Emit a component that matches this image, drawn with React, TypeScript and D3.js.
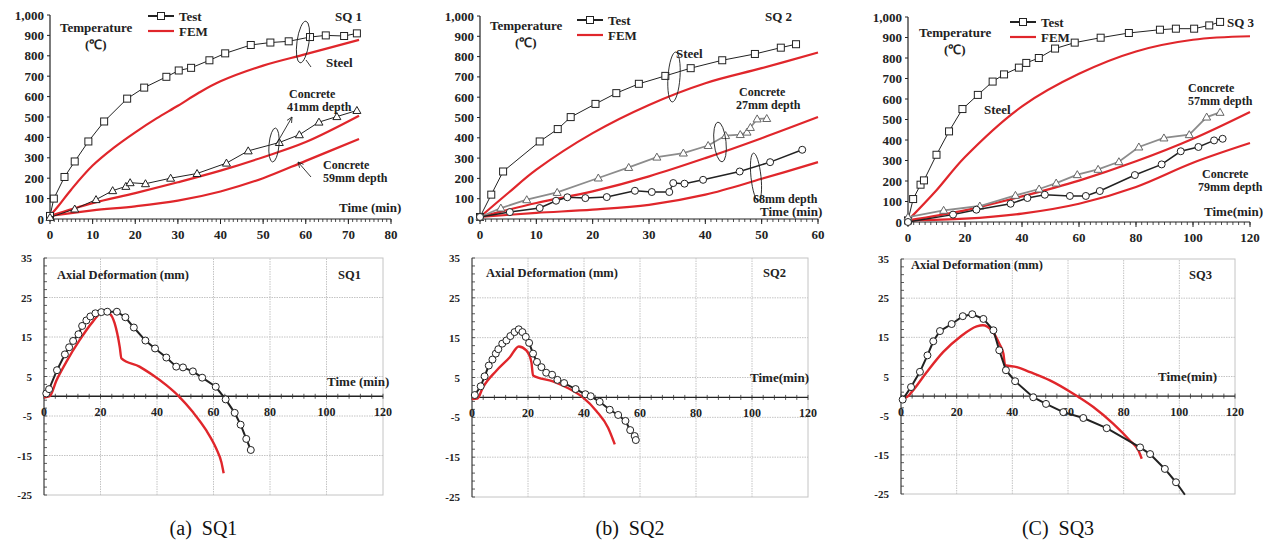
import * as d3 from "d3";
import React from "react";

// ---- temperature data (time min, temp C) ----
const sq1SteelTest = [[0, 15], [0.9, 100], [3.4, 206], [5.8, 282], [9, 380], [12.7, 478], [18.1, 590], [22.1, 644], [27.3, 697], [30.2, 728], [33.1, 741], [37.4, 778], [41.1, 812], [47.1, 853], [51.7, 865], [56, 871], [61, 892], [64.7, 900], [69, 897], [72, 910]];
const sq1ConcTest = [[0, 8], [5.8, 49], [10.8, 95], [14.7, 139], [17.8, 160], [18.8, 178], [22.4, 173], [28.3, 200], [34.5, 223], [41.4, 274], [46.5, 334], [53.8, 375], [58.5, 413], [63.1, 475], [67.3, 502], [72, 532]];
const sq1SteelFem = [[0, 15], [2, 65], [5, 145], [10, 262], [15, 350], [20, 425], [25, 493], [30, 555], [35, 620], [40, 675], [50, 752], [60, 808], [72.5, 878]];
const sq1Conc41Fem = [[0, 15], [10, 78], [20, 127], [30, 180], [40, 237], [50, 303], [60, 377], [72.5, 506]];
const sq1Conc59Fem = [[0, 15], [10, 42], [20, 62], [30, 90], [40, 135], [50, 200], [60, 285], [72.5, 392]];

const sq2SteelTest = [[0, 10], [2, 120], [4.1, 234], [10.6, 382], [13.8, 443], [16.1, 502], [20.5, 567], [24.2, 620], [28.2, 666], [32.9, 705], [37.4, 743], [43, 782], [48.8, 813], [53.4, 844], [56.1, 861]];
const sq2Conc27Test = [[0, 10], [3.7, 54], [8.3, 95], [13.7, 131], [21, 202], [26.4, 254], [31.4, 305], [36.1, 325], [40.5, 362], [43.6, 411], [46.2, 416], [47.4, 428], [48, 451], [49.2, 493], [50.9, 495]];
const sq2Conc68Test = [[0, 10], [5.3, 34], [10.6, 54], [13.5, 90], [15.5, 107], [18.7, 103], [22.5, 108], [27.5, 139], [30.5, 133], [33.6, 133], [34.3, 177], [36.3, 174], [39.6, 193], [46.1, 234], [51.5, 280], [57.2, 341]];
const sq2SteelFem = [[0, 10], [5, 128], [10, 243], [20, 423], [30, 562], [40, 669], [50, 743], [60, 820]];
const sq2Conc27Fem = [[0, 10], [10, 79], [20, 136], [30, 210], [40, 300], [50, 398], [60, 502]];
const sq2Conc68Fem = [[0, 10], [10, 30], [20, 46], [30, 70], [40, 120], [50, 198], [60, 280]];

const sq3SteelTest = [[0, 8], [1.8, 112], [4.4, 182], [5.6, 203], [10, 328], [14.4, 442], [19.1, 551], [24.5, 620], [29.7, 685], [33.7, 720], [38.9, 753], [41.5, 776], [45.9, 800], [51.6, 846], [58.5, 875], [67.6, 899], [77.5, 922], [88.4, 938], [94, 943], [100.4, 943], [105.7, 959], [109.5, 976]];
const sq3Conc57Test = [[0, 24], [12.5, 57], [25.2, 78], [37.7, 130], [46, 161], [52, 190], [59.4, 231], [66.7, 257], [74, 294], [81, 366], [89.8, 410], [98.7, 426], [104.8, 512], [109.5, 535]];
const sq3Conc79Test = [[0, 0], [15.8, 36], [24, 60], [36, 89], [41.9, 117], [48, 133], [56.8, 127], [62.4, 127], [67.3, 151], [79.6, 229], [89, 281], [95.7, 345], [101.9, 366], [107.4, 398], [110.4, 406]];
const sq3SteelFem = [[0, 8], [10, 155], [20, 317], [40, 564], [60, 723], [80, 832], [100, 889], [120, 906]];
const sq3Conc57Fem = [[0, 8], [20, 57], [40, 125], [60, 202], [80, 296], [100, 406], [120, 537]];
const sq3Conc79Fem = [[0, 8], [20, 16], [40, 41], [60, 89], [80, 171], [100, 289], [120, 385]];

// ---- axial deformation data (time min, mm) ----
const sq1DefTest = [[0.8, 0.7], [1.8, 1.8], [4.6, 6.6], [7.4, 10.6], [8.9, 12.4], [10.3, 14], [12.2, 15.7], [13.5, 17.8], [15, 19.2], [16.4, 20.2], [18.2, 21], [20.3, 21.3], [22.4, 21.4], [25.8, 21.4], [28.8, 20], [31.8, 17.4], [35.9, 14.1], [39.3, 12.1], [43.3, 9.8], [46.8, 7.5], [49.2, 7.3], [52.7, 6.3], [56, 4.7], [60.8, 2.4], [64.3, -0.8], [67.5, -4.2], [69.6, -7.2], [71.6, -10.8], [73.2, -13.6]];
const sq1DefFem = [[0, -0.3], [2, 0], [4.4, 4], [7.9, 8.7], [12.6, 14.2], [17.3, 18.9], [21.2, 21.6], [23.2, 21], [25, 18.5], [26.8, 12.5], [27.4, 9.6], [33.8, 7.5], [38.6, 5.3], [43.3, 2.8], [48, -0.2], [52.7, -4], [57.4, -8.6], [61, -13.3], [62.8, -16.7], [63.6, -19.5]];
const sq2DefTest = [[1, 0.6], [3.1, 2.8], [4.5, 5.3], [6, 8], [7.3, 9.5], [8.5, 11], [9.4, 12.1], [10.8, 13.5], [12.3, 14.3], [13.7, 15.4], [15.2, 16.4], [16.7, 17.1], [18, 16.4], [19.2, 15.2], [20.4, 13.7], [21.8, 11], [23.2, 8.9], [24.8, 7.6], [26.5, 6.2], [28.6, 5.7], [30.5, 4.4], [32.9, 3.6], [37, 2.1], [40.5, 0.8], [42.4, 0.3], [45.6, -1.1], [49.2, -3.1], [52.2, -4.4], [54.8, -5.9], [56.5, -8.2], [58.1, -9.7], [58.5, -10.7]];
const sq2DefFem = [[0, -0.4], [1.9, -0.3], [3.9, 2.5], [8.7, 6.7], [13.5, 10.1], [16.7, 12.8], [19.4, 11.8], [21.2, 8.9], [21.8, 5.5], [28.9, 4], [34.9, 2.1], [39.6, 0], [44.4, -3.4], [48.6, -7.6], [51, -11.8]];
const sq3DefTest = [[0.6, -0.9], [3.6, 2.3], [6.8, 6.2], [9.5, 10.4], [11.6, 14], [14, 16.6], [18.2, 18.4], [22.2, 20.4], [25.6, 20.9], [29.6, 19.7], [33.2, 16.8], [35.3, 11.7], [37.7, 6.6], [41, 3.8], [47.5, -0.3], [52.1, -2], [58.3, -4.1], [65.5, -5.6], [73.9, -8.2], [85.9, -13.1], [89.5, -14.8], [94.8, -18.6], [98.8, -22]];
const sq3DefTestTail = [[98.8, -22], [102, -25.2]];
const sq3DefFem = [[0, -0.4], [2, -0.3], [3.8, 1], [9.2, 6.1], [15.2, 11.3], [21.2, 15.1], [27.2, 17.8], [29.4, 18.1], [32.6, 16.8], [35.3, 13.4], [36.8, 10.8], [37.4, 7.9], [41.6, 7.4], [46.4, 6.1], [53.5, 4], [61.9, 0.6], [69.1, -2.8], [76.3, -7.1], [82.3, -11.4], [85.3, -13.9], [86.5, -16]];

const tempTicks = [0, 100, 200, 300, 400, 500, 600, 700, 800, 900, 1000];
const defTicks = [35, 25, 15, 5, -5, -15, -25];
const timeTicks = [0, 20, 40, 60, 80, 100, 120];

const RED = "#e0262b";
const GRAY = "#8c8c8c";
const FONT = "'Liberation Serif', 'Times New Roman', serif";

type Pt = number[];
type Series = { data: Pt[]; kind: "fem" | "plain" | "square" | "tri" | "circle"; color?: string; width?: number };

function Marker({ kind, x, y, color }: { kind: string; x: number; y: number; color: string }) {
  if (kind === "square") return <rect x={x - 3.5} y={y - 3.5} width={7} height={7} fill="#fff" stroke={color} strokeWidth={1} />;
  if (kind === "tri") return <path d={`M${x},${y - 4} L${x + 4},${y + 3} L${x - 4},${y + 3} Z`} fill="#fff" stroke={color} strokeWidth={1} />;
  return <circle cx={x} cy={y} r={3.5} fill="#fff" stroke={color} strokeWidth={1} />;
}

function Lines({ series, x, y, curve }: { series: Series[]; x: d3.ScaleLinear<number, number>; y: d3.ScaleLinear<number, number>; curve: any }) {
  const smooth = d3.line<Pt>().x((d) => x(d[0])).y((d) => y(d[1])).curve(curve);
  const straight = d3.line<Pt>().x((d) => x(d[0])).y((d) => y(d[1]));
  return (
    <g>
      {series.map((s, i) =>
        s.kind === "fem" ? (
          <path key={i} d={smooth(s.data as any) || ""} fill="none" stroke={RED} strokeWidth={s.width || 2.2} />
        ) : s.kind === "plain" ? (
          <path key={i} d={straight(s.data as any) || ""} fill="none" stroke={s.color || "#222"} strokeWidth={s.width || 1} />
        ) : (
          <g key={i}>
            <path d={straight(s.data as any) || ""} fill="none" stroke={s.color || "#222"} strokeWidth={s.width || 1} />
            {s.data.map((d, j) => (
              <Marker key={j} kind={s.kind} x={x(d[0])} y={y(d[1])} color={s.color === GRAY ? "#666" : "#222"} />
            ))}
          </g>
        )
      )}
    </g>
  );
}

function Lasso({ cx, cy, rx, ry, rot, tail }: { cx: number; cy: number; rx: number; ry: number; rot: number; tail?: number[] }) {
  return (
    <g>
      <ellipse cx={cx} cy={cy} rx={rx} ry={ry} transform={`rotate(${rot},${cx},${cy})`} fill="none" stroke="#222" strokeWidth={0.9} />
      {tail && <line x1={tail[0]} y1={tail[1]} x2={tail[2]} y2={tail[3]} stroke="#222" strokeWidth={0.9} />}
    </g>
  );
}

function Arrow({ x1, y1, x2, y2 }: { x1: number; y1: number; x2: number; y2: number }) {
  const a = Math.atan2(y2 - y1, x2 - x1);
  const h = 6;
  const p1 = [x2 - h * Math.cos(a - 0.45), y2 - h * Math.sin(a - 0.45)];
  const p2 = [x2 - h * Math.cos(a + 0.45), y2 - h * Math.sin(a + 0.45)];
  return (
    <g stroke="#222" strokeWidth={0.9} fill="none">
      <line x1={x1} y1={y1} x2={x2} y2={y2} />
      <path d={`M${p1[0]},${p1[1]} L${x2},${y2} L${p2[0]},${p2[1]}`} />
    </g>
  );
}

function Label({ x, y, children, size = 13, anchor = "start" }: any) {
  return (
    <text x={x} y={y} fontFamily={FONT} fontWeight="bold" fontSize={size} textAnchor={anchor} fill="#222">
      {children}
    </text>
  );
}

function TempPanel({ px, py, xMax, xStep, minorStep, series, children }: any) {
  const x = d3.scaleLinear().domain([0, xMax]).range(px);
  const y = d3.scaleLinear().domain([0, 1000]).range(py);
  const xt = d3.range(0, xMax + 0.01, xStep);
  const minor = d3.range(0, xMax + 0.01, minorStep);
  return (
    <g>
      <line x1={px[0]} x2={px[1]} y1={py[0]} y2={py[0]} stroke="#222" strokeWidth={1.2} />
      <line x1={px[0]} x2={px[0]} y1={py[0]} y2={py[1]} stroke="#222" strokeWidth={1.2} />
      {minor.map((t) => (
        <line key={t} x1={x(t)} x2={x(t)} y1={py[0]} y2={py[0] + 3} stroke="#222" strokeWidth={0.8} />
      ))}
      {xt.map((t) => (
        <g key={t}>
          <line x1={x(t)} x2={x(t)} y1={py[0]} y2={py[0] + 5} stroke="#222" />
          <Label x={x(t)} y={py[0] + 20} anchor="middle">{t}</Label>
        </g>
      ))}
      {tempTicks.map((v) => (
        <g key={v}>
          <line x1={px[0] - 3} x2={px[0]} y1={y(v)} y2={y(v)} stroke="#222" />
          <Label x={px[0] - 6} y={y(v) + 4.5} anchor="end">{d3.format(",")(v)}</Label>
        </g>
      ))}
      <Lines series={series} x={x} y={y} curve={d3.curveCatmullRom.alpha(0.5)} />
      {children}
    </g>
  );
}

function DefPanel({ px, py, series, label, caption, ax, sq, tm }: any) {
  const x = d3.scaleLinear().domain([0, 120]).range(px);
  const y = d3.scaleLinear().domain([-25, 35]).range(py);
  const minorY = d3.range(-25, 35.01, 2);
  const minorX = d3.range(0, 120.01, 4);
  return (
    <g>
      <rect x={px[0]} y={py[1]} width={px[1] - px[0]} height={py[0] - py[1]} fill="none" stroke="#c4c4c4" strokeWidth={1} />
      {timeTicks.slice(1, -1).map((t) => (
        <line key={t} x1={x(t)} x2={x(t)} y1={py[0]} y2={py[1]} stroke="#c4c4c4" strokeDasharray="1.5,1" />
      ))}
      {defTicks.slice(1, -1).map((v) => (
        <line key={v} x1={px[0]} x2={px[1]} y1={y(v)} y2={y(v)} stroke="#c4c4c4" strokeDasharray="1.5,1" />
      ))}
      <line x1={px[0]} x2={px[0]} y1={py[0]} y2={py[1]} stroke="#333" strokeWidth={1} />
      <line x1={px[0]} x2={px[1]} y1={y(0)} y2={y(0)} stroke="#222" strokeWidth={1.3} />
      {minorY.map((v) => (
        <line key={v} x1={px[0]} x2={px[0] + 3} y1={y(v)} y2={y(v)} stroke="#333" strokeWidth={0.8} />
      ))}
      {minorX.map((t) => (
        <line key={t} x1={x(t)} x2={x(t)} y1={y(0) - 2.5} y2={y(0) + 2.5} stroke="#333" strokeWidth={0.8} />
      ))}
      {defTicks.map((v) => (
        <Label key={v} x={px[0] - 12} y={y(v) + 4} anchor="end" size={11}>{v}</Label>
      ))}
      {timeTicks.map((t) => (
        <Label key={t} x={x(t)} y={y(0) + 20} anchor="middle" size={12}>{t}</Label>
      ))}
      <Label x={ax[0]} y={ax[1]} size={12.5}>Axial Deformation (mm)</Label>
      <Label x={sq[0]} y={sq[1]} size={12.5}>{label}</Label>
      <Label x={tm[0]} y={tm[1]} size={13}>{tm[2]}</Label>
      <Lines series={series} x={x} y={y} curve={d3.curveMonotoneX} />
      <text x={(px[0] + px[1]) / 2 - 10} y={535} fontFamily={FONT} fontSize={20} textAnchor="middle" fill="#111" xmlSpace="preserve">
        {caption}
      </text>
    </g>
  );
}

function Legend({ x, y }: { x: number; y: number }) {
  return (
    <g>
      <line x1={x} x2={x + 26} y1={y} y2={y} stroke="#222" strokeWidth={2} />
      <rect x={x + 9.5} y={y - 3.5} width={7} height={7} fill="#fff" stroke="#222" />
      <Label x={x + 31} y={y + 4.5}>Test</Label>
      <line x1={x} x2={x + 26} y1={y + 15} y2={y + 15} stroke={RED} strokeWidth={2.2} />
      <Label x={x + 31} y={y + 19.5}>FEM</Label>
    </g>
  );
}

function TempTitle({ x, y }: { x: number; y: number }) {
  return (
    <g>
      <Label x={x} y={y}>Temperature</Label>
      <Label x={x + 25} y={y + 17}>(℃)</Label>
    </g>
  );
}

export default function App() {
  return (
    <svg width={1263} height={540} style={{ position: "absolute", left: 0, top: 0, background: "#fff" }}>
      <TempPanel px={[50, 391]} py={[219, 15]} xMax={80} xStep={10} minorStep={1}
        series={[
          { data: sq1SteelFem, kind: "fem" },
          { data: sq1Conc41Fem, kind: "fem" },
          { data: sq1Conc59Fem, kind: "fem" },
          { data: sq1SteelTest, kind: "square", color: "#222", width: 1 },
          { data: sq1ConcTest, kind: "tri", color: "#222", width: 1 },
        ]}>
        <TempTitle x={60} y={32} />
        <Legend x={148} y={16} />
        <Label x={335} y={21}>SQ 1</Label>
        <Label x={326} y={67}>Steel</Label>
        <Lasso cx={303} cy={42} rx={6} ry={21} rot={8} tail={[306, 60, 311, 67]} />
        <Label x={289} y={98} size={12}>Concrete</Label>
        <Label x={287} y={111} size={12}>41mm depth</Label>
        <Lasso cx={274} cy={145} rx={5} ry={17} rot={5} />
        <Arrow x1={277} y1={143} x2={292} y2={117} />
        <Label x={323} y={169} size={12}>Concrete</Label>
        <Label x={323} y={182} size={12}>59mm depth</Label>
        <Arrow x1={311} y1={177} x2={298} y2={162} />
        <Label x={339} y={212}>Time (min)</Label>
      </TempPanel>

      <TempPanel px={[480, 818]} py={[219, 16]} xMax={60} xStep={10} minorStep={1}
        series={[
          { data: sq2SteelFem, kind: "fem" },
          { data: sq2Conc27Fem, kind: "fem" },
          { data: sq2Conc68Fem, kind: "fem" },
          { data: sq2SteelTest, kind: "square", color: "#222", width: 1 },
          { data: sq2Conc27Test, kind: "tri", color: GRAY, width: 1.8 },
          { data: sq2Conc68Test, kind: "circle", color: "#222", width: 1.5 },
        ]}>
        <TempTitle x={490} y={30} />
        <Legend x={577} y={20} />
        <Label x={765} y={21}>SQ 2</Label>
        <Label x={676} y={58}>Steel</Label>
        <Lasso cx={674} cy={77} rx={6} ry={25} rot={4} />
        <Label x={739} y={96} size={12}>Concrete</Label>
        <Label x={736} y={109} size={12}>27mm depth</Label>
        <Lasso cx={720} cy={142} rx={6} ry={20} rot={-6} />
        <Label x={753} y={203} size={12}>68mm depth</Label>
        <Lasso cx={756} cy={177} rx={5} ry={24} rot={-6} />
        <Label x={760} y={216}>Time (min)</Label>
      </TempPanel>

      <TempPanel px={[908, 1250]} py={[222, 17]} xMax={120} xStep={20} minorStep={2}
        series={[
          { data: sq3SteelFem, kind: "fem" },
          { data: sq3Conc57Fem, kind: "fem" },
          { data: sq3Conc79Fem, kind: "fem" },
          { data: sq3SteelTest, kind: "square", color: "#222", width: 1 },
          { data: sq3Conc57Test, kind: "tri", color: GRAY, width: 1.8 },
          { data: sq3Conc79Test, kind: "circle", color: "#222", width: 1.5 },
        ]}>
        <TempTitle x={919} y={37} />
        <Legend x={1010} y={22} />
        <Label x={1227} y={27}>SQ 3</Label>
        <Label x={984} y={114}>Steel</Label>
        <Label x={1188} y={92} size={12}>Concrete</Label>
        <Label x={1188} y={105} size={12}>57mm depth</Label>
        <Label x={1202} y={178} size={12}>Concrete</Label>
        <Label x={1198} y={191} size={12}>79mm depth</Label>
        <Label x={1204} y={216}>Time(min)</Label>
      </TempPanel>

      <DefPanel px={[44, 383]} py={[495, 258]} label="SQ1" caption="(a)  SQ1"
        ax={[57, 279]} sq={[338, 279]} tm={[327, 386, "Time (min)"]}
        series={[
          { data: sq1DefFem, kind: "fem", width: 2.4 },
          { data: sq1DefTest, kind: "circle", color: "#222", width: 2 },
        ]} />
      <DefPanel px={[472, 808]} py={[497, 258]} label="SQ2" caption="(b)  SQ2"
        ax={[486, 277]} sq={[763, 277]} tm={[750, 382, "Time(min)"]}
        series={[
          { data: sq2DefFem, kind: "fem", width: 2.4 },
          { data: sq2DefTest, kind: "circle", color: "#222", width: 2 },
        ]} />
      <DefPanel px={[901, 1235]} py={[494, 259]} label="SQ3" caption="(C)  SQ3"
        ax={[911, 269]} sq={[1189, 279]} tm={[1158, 381, "Time(min)"]}
        series={[
          { data: sq3DefTestTail, kind: "plain", color: "#222", width: 2 },
          { data: sq3DefFem, kind: "fem", width: 2.4 },
          { data: sq3DefTest, kind: "circle", color: "#222", width: 2 },
        ]} />
    </svg>
  );
}
